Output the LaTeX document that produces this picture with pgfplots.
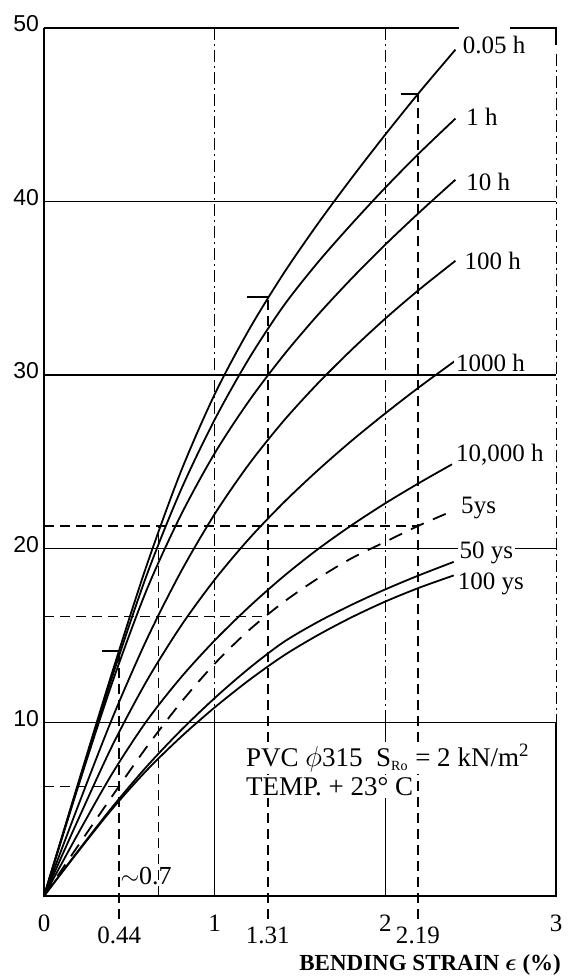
\documentclass[border=0pt]{standalone}
\usepackage{fontspec}
\setmainfont{Liberation Serif}
\newfontfamily\sansf{Liberation Sans}
\usepackage{pgfplots}
\pgfplotsset{compat=1.18}
\tikzset{
  lab/.style={anchor=west, fill=white, inner sep=1pt, font=\fontsize{12.5}{14}\selectfont},
  curve/.style={black, line width=0.9pt, smooth, tension=0.5},
  dd/.style={black, line width=0.4pt, dash pattern=on 6pt off 2pt on 1pt off 2pt},
  dsh/.style={black, line width=0.85pt, dash pattern=on 5pt off 3pt},
}
\begin{document}
\begin{tikzpicture}
\begin{axis}[
  scale only axis, width=256pt, height=434pt,
  xmin=0, xmax=3, ymin=0, ymax=50,
  clip=false,
  axis line style={draw=none},
  tick style={draw=none},
  xtick={0,1,2,3}, xticklabels={0,1,2,3},
  xticklabel style={font=\fontsize{12.5}{14}\selectfont, yshift=-6pt},
  extra x ticks={0.44,1.31,2.19}, extra x tick labels={0.44,1.31,2.19},
  extra x tick style={tick label style={yshift=-6pt}},
  ytick={10,20,30,40,50}, yticklabels={10,20,30,40,50},
  yticklabel style={font=\sansf\fontsize{11.5}{13}\selectfont, xshift=1pt, yshift=2pt},
]
% invisible bounding box
\path (axis cs:-0.258,51.6) rectangle (axis cs:3.10,-4.84);
% grid
\draw[line width=0.7pt] (axis cs:0,10) -- (axis cs:3,10);
\draw[line width=0.7pt] (axis cs:0,20) -- (axis cs:3,20);
\draw[line width=0.7pt] (axis cs:0,30) -- (axis cs:3,30);
\draw[line width=0.7pt] (axis cs:0,40) -- (axis cs:3,40);
\draw[line width=0.6pt] (axis cs:1,0) -- (axis cs:1,10);
\draw[line width=0.6pt] (axis cs:2,0) -- (axis cs:2,10);
\draw[dd] (axis cs:1,10) -- (axis cs:1,50);
\draw[dd] (axis cs:2,10) -- (axis cs:2,50);
% frame
\draw[line width=0.8pt] (axis cs:0,50) -- (axis cs:0,0) -- (axis cs:3,0) -- (axis cs:3,10);
\draw[line width=0.8pt] (axis cs:0,50) -- (axis cs:2.43,50);
\draw[line width=0.8pt] (axis cs:2.73,50) -- (axis cs:3,50) -- (axis cs:3,49);
\draw[dd] (axis cs:3,48.5) -- (axis cs:3,10);
% construction lines
\draw[dsh] (axis cs:0.44,-1.3) -- (axis cs:0.44,14.1);
\draw[dsh] (axis cs:1.31,-1.3) -- (axis cs:1.31,34.5);
\draw[dsh] (axis cs:2.19,-1.3) -- (axis cs:2.19,46.2);
\draw[dsh] (axis cs:0.67,0) -- (axis cs:0.67,21.3);
\draw[dsh] (axis cs:0,6.3) -- (axis cs:0.44,6.3);
\draw[dsh] (axis cs:0,16.1) -- (axis cs:1.31,16.1);
\draw[dsh] (axis cs:0,21.3) -- (axis cs:2.19,21.3);
\draw[line width=0.85pt] (axis cs:0.34,14.1) -- (axis cs:0.44,14.1);
\draw[line width=0.85pt] (axis cs:1.19,34.5) -- (axis cs:1.31,34.5);
\draw[line width=0.85pt] (axis cs:2.09,46.2) -- (axis cs:2.19,46.2);
% curves
% 0.05 h
\addplot[curve] coordinates {(0,0) (0.2,6.5) (0.4,12.9) (0.6,19.0) (0.8,24.4) (1.0,28.9) (1.2,32.6) (1.4,35.8) (1.6,38.66) (1.8,41.32) (2.0,43.86) (2.2,46.3) (2.41,48.74)};
% 1 h
\addplot[curve] coordinates {(0,0) (0.2,6.4) (0.4,12.64) (0.6,18.44) (0.8,23.34) (1.0,27.44) (1.2,30.94) (1.4,33.94) (1.6,36.44) (1.8,38.68) (2.0,40.8) (2.2,42.8) (2.41,44.77)};
% 10 h
\addplot[curve] coordinates {(0,0) (0.2,6.3) (0.4,12.3) (0.6,17.6) (0.8,21.9) (1.0,25.5) (1.2,28.5) (1.4,31.1) (1.6,33.42) (1.8,35.54) (2.0,37.52) (2.2,39.38) (2.41,41.25)};
% 100 h
\addplot[curve] coordinates {(0,0) (0.2,5.2) (0.4,10.24) (0.6,14.74) (0.8,18.64) (1.0,22.0) (1.2,24.86) (1.4,27.32) (1.6,29.48) (1.8,31.44) (2.0,33.26) (2.2,34.94) (2.41,36.58)};
% 1000 h
\addplot[curve] coordinates {(0,0) (0.2,4.4) (0.4,8.66) (0.6,12.36) (0.8,15.52) (1.0,18.22) (1.2,20.56) (1.4,22.62) (1.6,24.48) (1.8,26.2) (2.0,27.8) (2.2,29.32) (2.41,30.83)};
% 10,000 h
\addplot[curve] coordinates {(0,0) (0.2,3.6) (0.4,7.06) (0.6,10.06) (0.8,12.56) (1.0,14.72) (1.2,16.64) (1.4,18.38) (1.6,19.94) (1.8,21.34) (2.0,22.62) (2.2,23.8) (2.39,24.86)};
% 5 ys
\addplot[curve, dash pattern=on 7pt off 5pt] coordinates {(0,0) (0.2,2.9) (0.4,5.76) (0.6,8.56) (0.8,11.12) (1.0,13.38) (1.2,15.3) (1.4,16.9) (1.6,18.26) (1.8,19.44) (2.0,20.4) (2.2,21.35) (2.40,22.2)};
% 50 ys
\addplot[curve] coordinates {(0,0) (0.2,2.6) (0.4,5.12) (0.6,7.44) (0.8,9.52) (1.0,11.4) (1.2,13.1) (1.4,14.6) (1.6,15.76) (1.8,16.76) (2.0,17.66) (2.2,18.48) (2.40,19.24)};
% 100 ys
\addplot[curve] coordinates {(0,0) (0.2,2.56) (0.4,5.02) (0.6,7.22) (0.8,9.14) (1.0,10.86) (1.2,12.42) (1.4,13.82) (1.6,15.0) (1.8,16.04) (2.0,16.96) (2.2,17.76) (2.40,18.46)};
% curve labels
\node[lab] at (axis cs:2.44,49.0) {0.05 h};
\node[lab] at (axis cs:2.46,44.9) {1 h};
\node[lab] at (axis cs:2.46,41.1) {10 h};
\node[lab] at (axis cs:2.45,36.6) {100 h};
\node[lab] at (axis cs:2.40,30.7) {1000 h};
\node[lab] at (axis cs:2.40,25.4) {10,000 h};
\node[lab] at (axis cs:2.43,22.35) {5ys};
\node[lab] at (axis cs:2.42,19.75) {50 ys};
\node[lab] at (axis cs:2.41,18.0) {100 ys};
% annotation
\node[anchor=west, fill=white, inner sep=1pt, font=\fontsize{13.5}{15}\selectfont] at (axis cs:1.17,7.95) {PVC $\phi$315\ \ S\textsubscript{\fontsize{7}{8}\selectfont Ro} = 2 kN/m\textsuperscript{2}};
\node[anchor=west, fill=white, inner sep=1pt, font=\fontsize{13.5}{15}\selectfont] at (axis cs:1.17,6.3) {TEMP.\ + 23° C};
\node[anchor=west, inner sep=0.5pt, font=\fontsize{13}{14}\selectfont] at (axis cs:0.44,1.15) {$\sim$0.7};
\node[anchor=east, inner sep=0pt, font=\bfseries\fontsize{11.5}{13}\selectfont] at (axis cs:3.03,-3.97) {BENDING STRAIN {\boldmath$\epsilon$} (\%)};
\end{axis}
\end{tikzpicture}
\end{document}
